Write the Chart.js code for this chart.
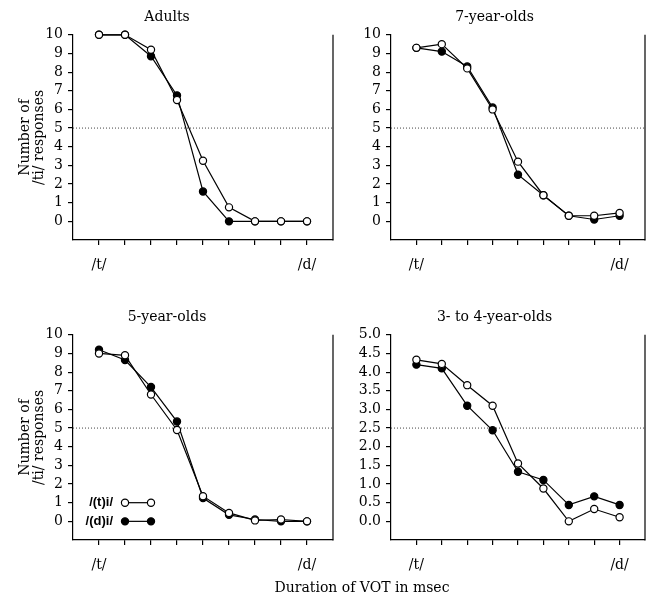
<!DOCTYPE html>
<html>
<head>
<meta charset="utf-8">
<script src="https://cdn.jsdelivr.net/npm/chart.js@4.4.1/dist/chart.umd.min.js"></script>
<style>
  body { margin: 0; background: #fff; width: 657px; height: 597px; position: relative; overflow: hidden; }
  canvas { position: absolute; }
  #xtitle { position: absolute; left: 0; width: 724px; top: 578px; text-align: center; font: 14px/18px "DejaVu Serif", serif; color: #000; }
</style>
</head>
<body>
<canvas id="adultsChart" width="345" height="290" style="left:0;top:0"></canvas>
<canvas id="sevenChart" width="320" height="290" style="left:337px;top:0"></canvas>
<canvas id="fiveChart" width="345" height="290" style="left:0;top:300px"></canvas>
<canvas id="threeChart" width="320" height="290" style="left:337px;top:300px"></canvas>
<div id="xtitle">Duration of VOT in msec</div>

<script>
// continuum steps, /t/ end to /d/ end
const steps = [0, 1, 2, 3, 4, 5, 6, 7, 8];
const seriesNames = ["/(t)i/", "/(d)i/"];
const yTitle = ["Number of", "/ti/ responses"];

const adultsT = [10, 10, 9.2, 6.5, 3.25, 0.75, 0, 0, 0];
const adultsD = [10, 10, 8.85, 6.75, 1.6, 0, 0, 0, 0];
const sevenT = [9.3, 9.5, 8.2, 6.0, 3.2, 1.4, 0.3, 0.3, 0.45];
const sevenD = [9.3, 9.1, 8.3, 6.1, 2.5, 1.4, 0.3, 0.1, 0.3];
const fiveT = [9.0, 8.9, 6.8, 4.9, 1.35, 0.45, 0.05, 0.1, 0];
const fiveD = [9.2, 8.65, 7.2, 5.35, 1.25, 0.35, 0.1, 0, 0];
const threeT = [4.33, 4.22, 3.65, 3.1, 1.55, 0.88, 0, 0.33, 0.11];
const threeD = [4.2, 4.1, 3.1, 2.44, 1.33, 1.11, 0.44, 0.67, 0.44];

Chart.defaults.font.family = "'DejaVu Serif', serif";
Chart.defaults.font.size = 14;
Chart.defaults.color = "#000";

function toPoints(vals) {
  return vals.map((v, i) => ({ x: steps[i], y: v }));
}

// right side of the frame (no top line)
const frameRight = {
  id: "frameRight",
  beforeDatasetsDraw(chart) {
    const { ctx, chartArea } = chart;
    ctx.save();
    ctx.strokeStyle = "#000";
    ctx.lineWidth = 1.2;
    ctx.beginPath();
    ctx.moveTo(chartArea.right, chartArea.top);
    ctx.lineTo(chartArea.right, chartArea.bottom + 0.6);
    ctx.stroke();
    ctx.restore();
  },
};

// small key drawn inside the 5-year-olds panel
const keyBox = {
  id: "keyBox",
  afterDatasetsDraw(chart) {
    const { ctx, scales } = chart;
    const x1 = scales.x.getPixelForValue(1);
    const x2 = scales.x.getPixelForValue(2);
    const rows = [
      [seriesNames[0], "#fff", scales.y.getPixelForValue(1)],
      [seriesNames[1], "#000", scales.y.getPixelForValue(0)],
    ];
    ctx.save();
    ctx.font = "bold 13px 'Liberation Sans', sans-serif";
    ctx.textAlign = "right";
    ctx.textBaseline = "middle";
    rows.forEach(([name, fill, py]) => {
      ctx.fillStyle = "#000";
      ctx.fillText(name, x1 - 12, py);
      ctx.strokeStyle = "#000";
      ctx.lineWidth = 1.2;
      ctx.beginPath();
      ctx.moveTo(x1, py);
      ctx.lineTo(x2, py);
      ctx.stroke();
      [x1, x2].forEach((px) => {
        ctx.beginPath();
        ctx.arc(px, py, 3.6, 0, Math.PI * 2);
        ctx.fillStyle = fill;
        ctx.fill();
        ctx.stroke();
      });
    });
    ctx.restore();
  },
};

function hideOutside(lo, hi) {
  return (c) => (c.tick && (c.tick.value < lo - 1e-9 || c.tick.value > hi + 1e-9) ? "rgba(0,0,0,0)" : "#000");
}

function makePanel(id, title, tVals, dVals, opt) {
  const extra = [frameRight];
  if (opt.key) extra.push(keyBox);
  new Chart(document.getElementById(id), {
    type: "line",
    data: {
      datasets: [
        {
          label: seriesNames[0],
          data: toPoints(tVals),
          borderColor: "#000",
          borderWidth: 1.2,
          pointRadius: 3.6,
          pointBorderWidth: 1.2,
          pointBorderColor: "#000",
          pointBackgroundColor: "#fff",
          clip: false,
        },
        {
          label: seriesNames[1],
          data: toPoints(dVals),
          borderColor: "#000",
          borderWidth: 1.2,
          pointRadius: 3.6,
          pointBorderWidth: 1.2,
          pointBorderColor: "#000",
          pointBackgroundColor: "#000",
          clip: false,
        },
        {
          label: "50%",
          data: [{ x: -1, y: opt.cut }, { x: 9, y: opt.cut }],
          borderColor: "#444",
          borderWidth: 1,
          borderDash: [1, 2],
          pointRadius: 0,
        },
      ],
    },
    options: {
      responsive: false,
      animation: false,
      events: [],
      layout: { padding: { left: 0, right: opt.padRight, top: 0, bottom: 0 } },
      plugins: {
        legend: { display: false },
        tooltip: { enabled: false },
        title: {
          display: true,
          text: title,
          font: { size: 14, weight: "normal" },
          padding: { top: 9, bottom: 9 },
        },
      },
      scales: {
        x: {
          type: "linear",
          min: -1,
          max: 9,
          afterFit: (s) => { s.height = 50; },
          ticks: {
            stepSize: 1,
            autoSkip: false,
            maxRotation: 0,
            padding: 12,
            callback: (v) => (v === 0 ? "/t/" : v === 8 ? "/d/" : ""),
          },
          grid: { drawOnChartArea: false, tickLength: 5, lineWidth: 1.2, color: hideOutside(0, 8) },
          border: { color: "#000", width: 1.2 },
        },
        y: {
          min: -opt.step,
          max: opt.max,
          afterFit: (s) => { s.width = opt.yWidth; },
          ticks: {
            stepSize: opt.step,
            autoSkip: false,
            padding: 5,
            callback: (v) => (v < -1e-9 ? "" : opt.step < 1 ? v.toFixed(1) : v),
          },
          grid: { drawOnChartArea: false, tickLength: 5, lineWidth: 1.2, color: hideOutside(0, opt.max) },
          border: { color: "#000", width: 1.2 },
          title: {
            display: opt.yTitle,
            text: yTitle,
            font: { size: 14, lineHeight: 1.0 },
            padding: { top: 18, bottom: 0 },
          },
        },
      },
    },
    plugins: extra,
  });
}

makePanel("adultsChart", "Adults", adultsT, adultsD, { max: 10, step: 1, cut: 5, yWidth: 73, padRight: 11, yTitle: true });
makePanel("sevenChart", "7-year-olds", sevenT, sevenD, { max: 10, step: 1, cut: 5, yWidth: 54, padRight: 5, yTitle: false });
makePanel("fiveChart", "5-year-olds", fiveT, fiveD, { max: 10, step: 1, cut: 5, yWidth: 73, padRight: 11, yTitle: true, key: true });
makePanel("threeChart", "3- to 4-year-olds", threeT, threeD, { max: 5, step: 0.5, cut: 2.5, yWidth: 54, padRight: 5, yTitle: false });
</script>
</body>
</html>
